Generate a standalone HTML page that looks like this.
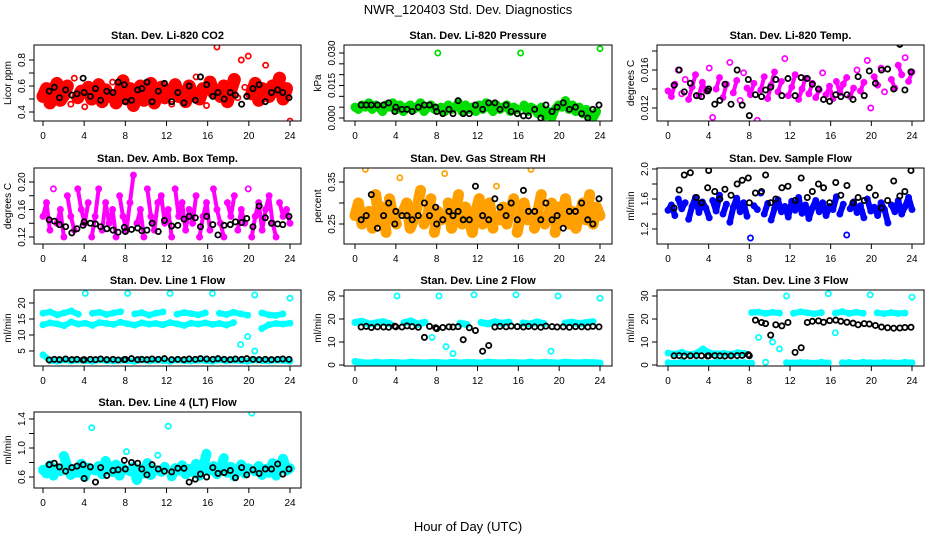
<!DOCTYPE html>
<html><head><meta charset="utf-8"><style>
html,body{margin:0;padding:0;background:#fff;}
svg{display:block;font-family:"Liberation Sans",sans-serif;}
</style></head><body>
<svg id="chart" width="936" height="540" viewBox="0 0 936 540" xmlns="http://www.w3.org/2000/svg">
<rect width="936" height="540" fill="#fff"/>
<text x="468" y="14" text-anchor="middle" font-size="13">NWR_120403  Std. Dev. Diagnostics</text>
<text x="468" y="531" text-anchor="middle" font-size="13">Hour of Day (UTC)</text>
</svg>
<script>
const blackHours=[0.6,1.1,1.6,2.2,2.8,3.3,3.9,4.0,4.6,5.1,5.6,6.2,6.8,7.3,7.9,8.0,8.6,9.2,9.6,10.1,10.6,11.2,11.8,12.5,13.1,13.7,14.2,14.8,15.3,15.9,16.5,17.0,17.6,18.2,18.7,19.3,19.8,20.4,21.0,21.6,22.2,22.8,23.3,23.9];
const xTicks=[0,4,8,12,16,20,24];
const co2Values=[0.52,0.58,0.47,0.55,0.62,0.49,0.53,0.60,0.46,0.66,0.51,0.56,0.44,0.59,0.50,0.54,0.61,0.48,0.57,0.52,0.63,0.47,0.55,0.64,0.50,0.58,0.45,0.53,0.60,0.49,0.56,0.62,0.47,0.54,0.59,0.51,0.57,0.46,0.61,0.52,0.55,0.48,0.60,0.53,0.67,0.50,0.58,0.45,0.63,0.55,0.90,0.52,0.60,0.48,0.57,0.65,0.51,0.80,0.59,0.83,0.54,0.62,0.49,0.58,0.76,0.52,0.60,0.56,0.66,0.50,0.58,0.33];
const co2Black=[0.56,0.59,0.51,0.57,0.53,0.54,0.66,0.55,0.52,0.58,0.49,0.56,0.55,0.63,0.61,0.48,0.49,0.57,0.58,0.63,0.48,0.56,0.62,0.48,0.55,0.47,0.60,0.49,0.67,0.61,0.52,0.55,0.50,0.55,0.53,0.46,0.52,0.58,0.61,0.48,0.55,0.57,0.55,0.51];
const presValues=[0.005,0.004,0.006,0.005,0.007,0.004,0.006,0.005,0.003,0.006,0.005,0.007,0.004,0.006,0.003,0.005,0.006,0.004,0.005,0.007,0.003,0.005,0.006,0.004,0.030,0.005,0.003,0.006,0.004,0.005,0.007,0.003,0.006,0.004,0.005,0.003,0.006,0.004,0.007,0.005,0.003,0.006,0.004,0.005,0.006,0.003,0.005,0.004,0.030,0.006,0.003,0.005,0.004,0.002,0.005,0.001,0.003,0.000,0.004,0.006,0.005,0.008,0.004,0.006,0.003,0.005,0.002,0.004,0.001,0.000,0.003,0.032];
const presBlack=[0.006,0.006,0.006,0.006,0.006,0.007,0.003,0.005,0.004,0.004,0.003,0.005,0.006,0.006,0.005,0.003,0.002,0.004,0.002,0.008,0.002,0.002,0.006,0.004,0.007,0.007,0.004,0.006,0.003,0.002,0.001,0.001,0.004,0.000,0.006,0.003,0.005,0.007,0.004,0.005,0.002,0.000,0.004,0.006];
const licTempValues=[0.0138,0.0132,0.0145,0.0160,0.0135,0.0150,0.0129,0.0142,0.0155,0.0133,0.0147,0.0138,0.0162,0.0110,0.0140,0.0152,0.0131,0.0145,0.0168,0.0136,0.0149,0.0128,0.0157,0.0141,0.0134,0.0146,0.0107,0.0139,0.0153,0.0130,0.0144,0.0158,0.0137,0.0148,0.0172,0.0133,0.0142,0.0155,0.0129,0.0140,0.0151,0.0135,0.0146,0.0131,0.0139,0.0157,0.0134,0.0143,0.0130,0.0148,0.0136,0.0145,0.0152,0.0132,0.0141,0.0160,0.0138,0.0147,0.0170,0.0120,0.0153,0.0144,0.0162,0.0137,0.0196,0.0150,0.0141,0.0165,0.0155,0.0173,0.0148,0.0158];
const licTempBlack=[0.0144,0.0160,0.0137,0.0146,0.0133,0.0132,0.0138,0.0140,0.0124,0.0128,0.0145,0.0124,0.0160,0.0123,0.0150,0.0112,0.0134,0.0132,0.0139,0.0142,0.0150,0.0133,0.0151,0.0133,0.0152,0.0151,0.0145,0.0140,0.0129,0.0127,0.0134,0.0132,0.0134,0.0129,0.0153,0.0133,0.0159,0.0146,0.0160,0.0161,0.0140,0.0187,0.0139,0.0158];
const boxTempValues=[0.15,0.17,0.13,0.19,0.14,0.16,0.12,0.18,0.15,0.13,0.19,0.16,0.14,0.17,0.12,0.15,0.19,0.13,0.17,0.14,0.16,0.12,0.18,0.15,0.13,0.17,0.21,0.14,0.16,0.12,0.19,0.15,0.13,0.17,0.18,0.14,0.16,0.12,0.19,0.15,0.17,0.13,0.16,0.14,0.18,0.12,0.15,0.17,0.13,0.19,0.16,0.14,0.12,0.17,0.15,0.18,0.13,0.16,0.14,0.19,0.12,0.15,0.17,0.13,0.16,0.18,0.14,0.12,0.17,0.15,0.16,0.14];
const boxTempBlack=[0.145,0.143,0.138,0.135,0.126,0.132,0.137,0.142,0.140,0.139,0.135,0.132,0.130,0.127,0.134,0.128,0.131,0.133,0.129,0.130,0.140,0.128,0.144,0.136,0.137,0.146,0.150,0.148,0.135,0.150,0.138,0.123,0.137,0.138,0.142,0.141,0.147,0.135,0.165,0.148,0.140,0.139,0.138,0.150];
const rhValues=[0.27,0.30,0.25,0.38,0.28,0.24,0.32,0.26,0.29,0.23,0.31,0.27,0.25,0.36,0.28,0.30,0.24,0.26,0.29,0.33,0.25,0.27,0.31,0.23,0.28,0.26,0.37,0.30,0.24,0.27,0.32,0.25,0.29,0.26,0.23,0.28,0.31,0.25,0.27,0.30,0.24,0.34,0.26,0.29,0.25,0.28,0.31,0.23,0.27,0.30,0.26,0.38,0.24,0.28,0.32,0.25,0.27,0.30,0.23,0.29,0.26,0.31,0.25,0.28,0.24,0.27,0.30,0.26,0.32,0.25,0.29,0.27];
const rhBlack=[0.26,0.27,0.32,0.24,0.27,0.30,0.25,0.28,0.27,0.27,0.26,0.27,0.30,0.27,0.29,0.25,0.26,0.28,0.27,0.28,0.26,0.26,0.34,0.27,0.26,0.31,0.29,0.27,0.30,0.26,0.33,0.28,0.28,0.26,0.30,0.26,0.27,0.24,0.28,0.28,0.30,0.26,0.25,0.31];
const sampleValues=[1.45,1.52,1.38,1.60,1.47,1.55,1.33,1.50,1.62,1.42,1.56,1.48,1.35,1.58,1.44,1.65,1.40,1.53,1.29,1.49,1.61,1.43,1.55,1.37,1.08,1.51,1.46,1.68,1.40,1.54,1.32,1.47,1.59,1.43,1.50,1.36,1.57,1.45,1.62,1.41,1.52,1.34,1.48,1.58,1.43,1.55,1.38,1.50,1.46,1.63,1.40,1.53,1.12,1.47,1.56,1.42,1.51,1.35,1.60,1.44,1.49,1.38,1.55,1.46,1.28,1.52,1.43,1.58,1.40,1.50,1.62,1.46];
const sampleBlack=[1.48,1.72,1.92,1.95,1.62,1.55,1.75,1.98,1.70,1.60,1.73,1.65,1.80,1.85,1.88,1.55,1.68,1.70,1.92,1.55,1.60,1.75,1.77,1.58,1.88,1.62,1.70,1.80,1.75,1.55,1.82,1.65,1.78,1.55,1.62,1.58,1.75,1.65,1.48,1.58,1.84,1.64,1.70,1.98];
const line1Upper=[16.8,17.2,16.3,16.9,17.5,16.5,23.0,16.8,17.1,16.4,16.9,17.3,23.0,16.6,17.0,16.2,16.8,17.2,23.0,16.5,17.0,16.7,16.3,16.9,23.0,16.8,16.4,17.1,16.6,16.2,22.5,16.9,16.3,16.1,16.6,21.5];
const line1Mid=[13.2,13.8,13.5,12.9,14.1,13.4,13.7,13.0,13.9,13.6,13.3,14.0,13.5,13.1,13.8,13.4,13.6,13.2,13.9,13.5,13.0,13.7,13.4,13.8,13.3,13.6,13.1,13.9,7.0,9.5,5.0,12.0,13.2,13.6,13.4,13.7];
const line1Low=[3.8,2.0,1.8,2.2,1.9,2.1,2.0,1.8,2.2,2.0,1.9,2.1,2.0,1.8,2.2,1.9,2.1,2.0,1.8,2.2,2.0,1.9,2.1,2.0,1.8,2.2,1.9,2.1,2.0,1.8,2.2,2.0,1.9,2.1,2.0,1.8];
const line1Black=[2.2,2.4,2.3,2.5,2.3,2.4,2.2,2.3,2.4,2.3,2.5,2.3,2.4,2.2,2.3,2.4,2.6,2.3,2.4,2.3,2.5,2.4,2.6,2.3,2.4,2.3,2.5,2.4,2.6,2.5,2.4,2.6,2.4,2.3,2.5,2.4,2.6,2.4,2.3,2.4,2.3,2.4,2.5,2.4];
const line2Upper=[18.5,19.0,17.8,18.3,18.8,17.9,30.0,18.4,19.1,17.7,18.6,12.0,30.0,8.0,5.0,18.2,17.6,30.5,18.5,17.9,18.8,18.1,18.6,30.5,18.3,17.8,18.7,18.0,6.0,30.0,18.2,18.6,17.9,18.4,18.8,29.0];
const line2Low=[1.5,1.0,0.8,1.2,0.9,1.1,1.0,0.8,1.2,1.0,0.9,1.1,1.0,0.8,1.2,0.9,1.1,1.0,0.8,1.2,1.0,0.9,1.1,1.0,0.8,1.2,0.9,1.1,1.0,0.8,1.2,1.0,0.9,1.1,1.0,0.8];
const line2Black=[16.5,16.8,16.3,16.6,16.5,16.4,16.9,16.6,16.5,17.0,16.7,16.4,12.0,16.8,16.2,15.8,16.3,16.6,16.5,16.7,11.0,16.2,15.0,6.0,8.5,16.5,16.8,16.6,16.9,16.7,16.5,16.8,16.6,16.4,16.9,16.7,16.5,16.6,16.4,16.7,16.6,16.5,16.8,16.6];
const line3Upper=[5.2,4.8,5.5,4.6,5.0,7.0,5.3,4.9,5.1,4.7,5.4,5.0,22.8,23.0,22.4,22.9,22.6,30.0,22.5,23.1,22.7,22.3,22.8,31.0,22.6,23.2,22.4,22.9,22.5,30.5,22.7,22.3,22.8,22.4,22.6,29.5];
const line3Low=[1.0,0.8,1.2,0.9,1.1,1.0,0.8,1.2,1.0,0.9,1.1,1.0,0.8,12.0,1.2,10.0,7.0,1.0,0.9,1.1,1.0,0.8,1.2,0.9,14.0,1.0,1.1,0.8,1.2,1.0,0.9,1.1,1.0,0.8,1.2,1.0];
const line3Black=[4.0,4.1,3.9,4.0,4.1,4.0,3.9,4.0,4.1,4.0,3.9,4.0,4.1,4.2,4.5,4.0,19.5,18.5,18.0,13.0,17.5,17.0,18.5,5.5,7.5,18.5,19.0,19.2,18.6,19.3,19.5,19.0,18.6,18.2,17.5,18.0,17.8,17.2,16.5,16.2,16.0,16.1,16.3,16.4];
const line4Values=[0.70,0.65,0.76,0.62,0.72,0.68,0.89,0.74,0.63,0.71,0.66,0.78,0.60,0.73,1.28,0.69,0.75,0.64,0.82,0.70,0.67,0.77,0.62,0.72,0.95,0.68,0.74,0.56,0.71,0.65,0.79,0.63,0.70,0.90,0.67,0.74,1.30,0.61,0.72,0.69,0.76,0.64,0.71,0.67,0.78,0.62,0.73,0.92,0.69,0.75,0.64,0.71,0.86,0.66,0.74,0.61,0.70,0.77,0.65,0.72,1.48,0.68,0.75,0.63,0.71,0.66,0.79,0.62,0.73,0.85,0.69,0.72];
const line4Black=[0.77,0.79,0.74,0.68,0.73,0.75,0.77,0.58,0.74,0.53,0.73,0.62,0.69,0.70,0.83,0.71,0.80,0.79,0.71,0.63,0.77,0.71,0.68,0.67,0.72,0.72,0.53,0.57,0.64,0.60,0.73,0.65,0.66,0.69,0.59,0.73,0.63,0.70,0.65,0.71,0.71,0.78,0.64,0.71];

const svg=document.getElementById('chart');
const NS='http://www.w3.org/2000/svg';
const cols=[{l:34,r:301,x0:43,x24:290},{l:344,r:612,x0:355,x24:600},{l:657,r:924,x0:668,x24:912}];
const rows=[45,168,290,412];
const H=76;
function mk(tag,attrs,parent){const e=document.createElementNS(NS,tag);for(const k in attrs)e.setAttribute(k,attrs[k]);(parent||svg).appendChild(e);return e;}

const panels=[
 {name:'co2',title:'Stan. Dev. Li-820 CO2',ylab:'Licor ppm',c:0,r:0,ya:0.4,pa:112,yb:0.8,pb:60,ticks:[0.4,0.5,0.6,0.7,0.8],labels:[0.4,0.6,0.8],dec:1,bw:13,thr:14,series:[{v:co2Values,col:'#ff0000'}],black:co2Black},
 {name:'pressure',title:'Stan. Dev. Li-820 Pressure',ylab:'kPa',c:1,r:0,ya:0,pa:118,yb:0.03,pb:53,ticks:[0,0.005,0.01,0.015,0.02,0.025,0.03],labels:[0,0.015,0.03],dec:3,bw:9,thr:10,series:[{v:presValues,col:'#00dd00'}],black:presBlack},
 {name:'li820-temp',title:'Stan. Dev. Li-820 Temp.',ylab:'degrees C',c:2,r:0,ya:0.012,pa:108,yb:0.016,pb:70,ticks:[0.012,0.014,0.016,0.018],labels:[0.012,0.016],dec:3,bw:4,thr:14,series:[{v:licTempValues,col:'#ff00ff'}],black:licTempBlack},
 {name:'box-temp',title:'Stan. Dev. Amb. Box Temp.',ylab:'degrees C',c:0,r:1,ya:0.12,pa:237,yb:0.2,pb:182,ticks:[0.12,0.14,0.16,0.18,0.2],labels:[0.12,0.16,0.2],dec:2,bw:4,thr:30,series:[{v:boxTempValues,col:'#ff00ff'}],black:boxTempBlack},
 {name:'gas-rh',title:'Stan. Dev. Gas Stream RH',ylab:'percent',c:1,r:1,ya:0.25,pa:224,yb:0.35,pb:182,ticks:[0.25,0.3,0.35],labels:[0.25,0.35],dec:2,bw:11,thr:26,series:[{v:rhValues,col:'#ffa000'}],black:rhBlack},
 {name:'sample-flow',title:'Stan. Dev. Sample Flow',ylab:'ml/min',c:2,r:1,ya:1.2,pa:229,yb:2.0,pb:169,ticks:[1.2,1.4,1.6,1.8,2.0],labels:[1.2,1.6,2.0],dec:1,bw:6,thr:16,series:[{v:sampleValues,col:'#0000ff'}],black:sampleBlack},
 {name:'line1-flow',title:'Stan. Dev. Line 1 Flow',ylab:'ml/min',c:0,r:2,ya:5,pa:351,yb:20,pb:303,ticks:[5,10,15,20],labels:[5,10,15,20],dec:0,bw:6,thr:6,series:[{v:line1Upper,col:'#00ffff'},{v:line1Mid,col:'#00ffff'},{v:line1Low,col:'#00ffff'}],black:line1Black},
 {name:'line2-flow',title:'Stan. Dev. Line 2 Flow',ylab:'ml/min',c:1,r:2,ya:0,pa:365,yb:30,pb:296,ticks:[0,10,20,30],labels:[0,10,20,30],dec:0,bw:7,thr:6,series:[{v:line2Upper,col:'#00ffff'},{v:line2Low,col:'#00ffff'}],black:line2Black},
 {name:'line3-flow',title:'Stan. Dev. Line 3 Flow',ylab:'ml/min',c:2,r:2,ya:0,pa:365,yb:30,pb:296,ticks:[0,10,20,30],labels:[0,10,20,30],dec:0,bw:6,thr:6,series:[{v:line3Upper,col:'#00ffff'},{v:line3Low,col:'#00ffff'}],black:line3Black},
 {name:'line4-flow',title:'Stan. Dev. Line 4 (LT) Flow',ylab:'ml/min',c:0,r:3,ya:0.6,pa:477,yb:1.4,pb:419,ticks:[0.6,0.8,1.0,1.2,1.4],labels:[0.6,1.0,1.4],dec:1,bw:10,thr:14,series:[{v:line4Values,col:'#00ffff'}],black:line4Black}
];

panels.forEach(p=>{
  const C=cols[p.c], top=rows[p.r], bot=top+H;
  const g=mk('g',{});
  
  
  const sx=h=>C.x0+(C.x24-C.x0)*h/24;
  const sy=v=>p.pa+(p.pb-p.pa)*(v-p.ya)/(p.yb-p.ya);
  const clip='clip-'+p.name;
  const cp=mk('clipPath',{id:clip},g);mk('rect',{x:C.l,y:top,width:C.r-C.l,height:H},cp);
  const marks=mk('g',{'clip-path':'url(#'+clip+')'},g);
  p.series.forEach(s=>{
    const n=s.v.length;
    const pts=s.v.map((v,i)=>[sx(i*24/(n-1)),sy(v)]);
    for(let i=1;i<n;i++){
      if(Math.abs(pts[i][1]-pts[i-1][1])<p.thr){
        const seg=mk('line',{x1:pts[i-1][0],y1:pts[i-1][1],x2:pts[i][0],y2:pts[i][1],stroke:s.col,'stroke-width':p.bw,'stroke-linecap':'round'},marks);
        
        
      }
    }
    pts.forEach(pt=>{
      const c=mk('circle',{cx:pt[0],cy:pt[1],r:2.6,fill:'none',stroke:s.col,'stroke-width':1.7},marks);
      
      
    });
  });
  p.black.forEach((v,i)=>{
    const c=mk('circle',{cx:sx(blackHours[i]),cy:sy(v),r:2.6,fill:'none',stroke:'#000','stroke-width':1.8},marks);
    
    
  });
  mk('rect',{x:C.l,y:top,width:C.r-C.l,height:H,fill:'none',stroke:'#000','stroke-width':1},g);
  const t=mk('text',{x:(C.l+C.r)/2,y:top-6,'text-anchor':'middle','font-size':11,'font-weight':'bold'},g);
  t.textContent=p.title;
  
  
  mk('line',{x1:sx(0),x2:sx(24),y1:bot,y2:bot,stroke:'#000'},g);
  xTicks.forEach(h=>{
    mk('line',{x1:sx(h),x2:sx(h),y1:bot,y2:bot+5,stroke:'#000'},g);
    const l=mk('text',{x:sx(h),y:bot+18,'text-anchor':'middle','font-size':10},g);
    l.textContent=h;
    
    
  });
  const yt=p.ticks.map(sy);
  mk('line',{x1:C.l,x2:C.l,y1:Math.max(...yt),y2:Math.min(...yt),stroke:'#000'},g);
  p.ticks.forEach(v=>mk('line',{x1:C.l-5,x2:C.l,y1:sy(v),y2:sy(v),stroke:'#000'},g));
  p.labels.forEach(v=>{
    const y=sy(v),x=C.l-9;
    const l=mk('text',{x:x,y:y,transform:'rotate(-90 '+x+' '+y+')','text-anchor':'middle','font-size':10},g);
    l.textContent=v.toFixed(p.dec);
    
    
  });
  const yx=C.l-23, yy=top+H/2;
  const yl=mk('text',{x:yx,y:yy,transform:'rotate(-90 '+yx+' '+yy+')','text-anchor':'middle','font-size':10},g);
  yl.textContent=p.ylab;
  
  
});
</script>
</body></html>
